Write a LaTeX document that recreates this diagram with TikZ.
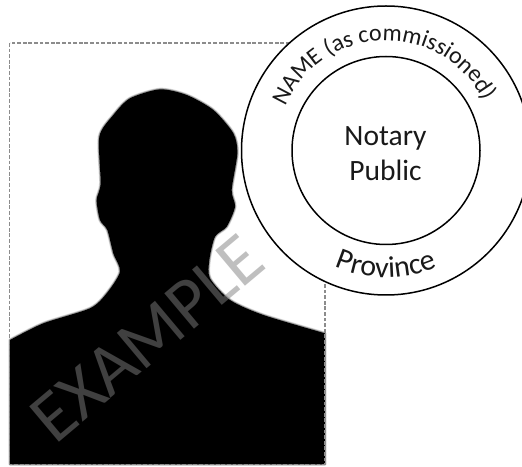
\documentclass[tikz,border=0pt]{standalone}
\usepackage{fontspec}
\setmainfont{Carlito}
\usetikzlibrary{decorations.text}
\newcommand{\headshape}{plot[smooth,tension=.45] coordinates {(30,930)(130,880)(270,835)(320,790)(360,725)(340,670)(322,600)(300,570)(290,510)(302,460)(298,320)(340,255)(390,205)(480,178)(560,195)(640,240)(700,310)(712,370)(695,480)(705,530)(680,590)(645,620)(628,690)(630,745)(690,810)(790,855)(975,910)} -- (975,1303) -- (30,1303) -- cycle}
\tikzset{
  x=1pt,y=1pt,
  ring/.style={draw=black,line width=1.5pt,fill=white},
  frame/.style={draw=black!45,line width=1.3pt,dash pattern=on 3.8pt off 1.8pt},
  zoomed/.style={x=.33333pt,y=-.33333pt,yshift=436pt},
  sealbig/.style={font=\fontsize{29.5}{35}\selectfont,align=center,text=black!90},
  mark text/.style={font=\fontsize{72}{72}\selectfont,text=black!50,opacity=.5,rotate=40,anchor=base}
}
\begin{document}
\begin{tikzpicture}
\useasboundingbox (0,0) rectangle (522,466);
\clip (0,0) rectangle (522,466);
\fill[white] (0,0) rectangle (522,466);
\begin{scope}[zoomed]
  \fill[black] \headshape;
  \draw[black,opacity=.15,line width=3.2pt,line join=round] \headshape;
  \draw[black,opacity=.3,line width=1.8pt,line join=round] \headshape;
\end{scope}
\draw[frame] (9.8,423) rectangle (325,1.8);
\coordinate (c) at (386,315.5);
\node[ring,circle,minimum size=289pt,inner sep=0pt] (outer) at (c) {};
\node[ring,circle,minimum size=188pt,inner sep=0pt] (inner) at (c) {};
\node[sealbig] (np) at (385.5,312) {Notary\\Public};
\path[decorate,decoration={text along path,text align=center,
  text={|\fontsize{24}{24}\selectfont\color{black!90}|NAME (as commissioned)}}]
  ([shift={(171.5:110)}]c) arc[start angle=171.5,end angle=11.5,radius=110];
\path[decorate,decoration={text along path,text align=center,
  text={|\fontsize{30}{30}\selectfont\color{black!90}|Province}}]
  ([shift={(190:127)}]c) arc[start angle=190,end angle=350,radius=127];
\node[mark text] (ex) at (162,110) {EXAMPLE};
\end{tikzpicture}
\end{document}
